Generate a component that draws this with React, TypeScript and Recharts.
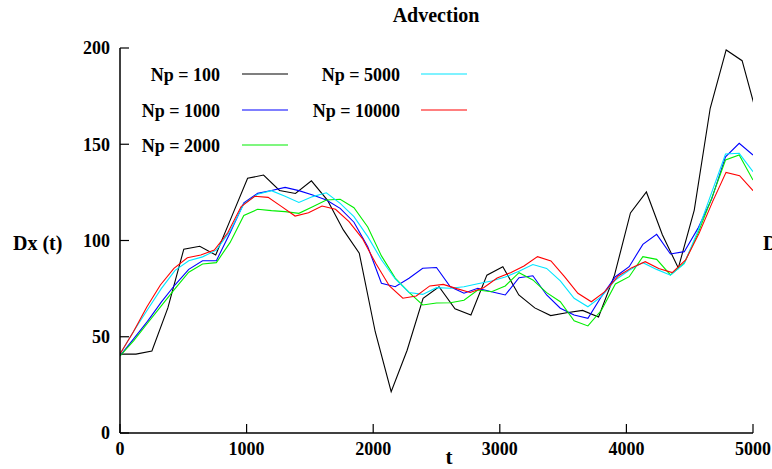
import { LineChart, Line, XAxis, YAxis, Legend } from 'recharts';

// sample times of each run (the runs were written out at different steps)
const np100Times = [
  0, 126, 252, 378, 504, 630, 756, 882, 1008, 1134, 1260, 1386, 1512, 1638, 1764, 1890, 2016, 2142, 2268, 2394, 2520,
  2646, 2772, 2898, 3024, 3150, 3276, 3402, 3528, 3654, 3780, 3906, 4032, 4158, 4284, 4410, 4536, 4662, 4788, 4914, 5040,
];
const np10000Times = [
  0, 106, 213, 319, 426, 532, 638, 745, 851, 957, 1064, 1170, 1277, 1383, 1489, 1596, 1702, 1809, 1915, 2021, 2128,
  2234, 2340, 2447, 2553, 2660, 2766, 2872, 2979, 3085, 3191, 3298, 3404, 3511, 3617, 3723, 3830, 3936, 4043, 4149,
  4255, 4362, 4468, 4574, 4681, 4787, 4894, 5000,
];
const midTimes = [
  0, 109, 217, 326, 435, 543, 652, 761, 870, 978, 1087, 1196, 1304, 1413, 1522, 1630, 1739, 1848, 1957, 2065, 2174,
  2283, 2391, 2500, 2609, 2717, 2826, 2935, 3043, 3152, 3261, 3370, 3478, 3587, 3696, 3804, 3913, 4022, 4130, 4239,
  4348, 4457, 4565, 4674, 4783, 4891, 5000,
];

// Dx(t) for each particle count
const np100 = [
  41, 41, 42.6, 65, 95.5, 97, 92.5, 112.4, 132.3, 134, 126, 124.4, 131, 121, 105.5, 93.4, 52.6, 21.5, 43, 70, 76,
  64.5, 61.3, 82, 86.4, 71.7, 65, 61, 62.5, 63.7, 60.3, 82, 114.3, 125.2, 103, 85.7, 115.8, 168.7, 199, 193.4, 163,
];
const np1000 = [
  40, 49, 58, 68, 77, 85, 89.5, 89.5, 104, 119.5, 124.5, 126, 127.6, 125.9, 123.6, 121, 116.7, 109.5, 96.8, 77.8,
  76, 80.4, 85.6, 86, 76, 72.6, 75.2, 73.4, 71.7, 80.7, 81.7, 71.7, 64.8, 61.3, 59.6, 71, 81.2, 86.4, 98, 103.2, 93,
  94.2, 106.3, 121.6, 143.5, 150.5, 144.4,
];
const np2000 = [
  40, 48, 57, 66, 75, 83.5, 87.8, 88.5, 99, 113, 116.2, 115.5, 115, 114.1, 117.5, 121, 121.4, 117, 107, 92, 80.5,
  73, 66.5, 67.5, 67.7, 69, 74.3, 73.4, 76.4, 83.3, 79.5, 72.9, 68.2, 58.3, 55.6, 63.9, 77.4, 81.2, 91.6, 90.2,
  82.1, 88.2, 103.7, 122, 141.8, 144.4, 131.4,
];
const np5000 = [
  41, 53, 64, 75, 84.5, 89.5, 91.5, 95, 105, 119, 124, 125.9, 123, 119.8, 122.8, 124.8, 119.3, 112.4, 102, 90, 80,
  73, 72, 75.5, 75.2, 76, 77.5, 79, 81, 84, 87.5, 85.5, 79, 70, 65.6, 71, 79.5, 84.5, 88.5, 85, 82, 88, 105, 125,
  144.9, 145.3, 135.7,
];
const np10000 = [
  41, 52.6, 65.6, 76.9, 85.5, 91, 92.5, 95, 104, 117.6, 123, 122.4, 117.6, 112.7, 114.4, 117.9, 116.2, 109.8, 101,
  88, 76.4, 70, 71.2, 76.4, 77.2, 75, 73, 75.5, 80.5, 83.3, 86.8, 91.6, 89.4, 81.2, 72.6, 68.2, 73.4, 81.6, 85.9,
  89, 85.5, 83.3, 89.9, 103.7, 120.2, 135.4, 133.7, 125.9,
];

const xTicks = [0, 1000, 2000, 3000, 4000, 5000];
const yTicks = [0, 50, 100, 150, 200];

const toPoints = (times: number[], values: number[]) => times.map((t, i) => ({ t, v: values[i] }));

const series = [
  { name: 'Np = 100', color: '#000000', points: toPoints(np100Times, np100) },
  { name: 'Np = 1000', color: '#0000ff', points: toPoints(midTimes, np1000) },
  { name: 'Np = 2000', color: '#00ee00', points: toPoints(midTimes, np2000) },
  { name: 'Np = 5000', color: '#00e5ff', points: toPoints(midTimes, np5000) },
  { name: 'Np = 10000', color: '#ff0000', points: toPoints(np10000Times, np10000) },
];

const FONT = "'Liberation Serif', 'Times New Roman', serif";
const tickFont = { fill: '#000', fontSize: 18, fontWeight: 'bold', fontFamily: FONT };
const frame = { stroke: '#000', strokeWidth: 1.5 };

// legend sits inside the plot: three rows on the left, two on the right
const legendCols = [
  { textRight: 220, lineLeft: 242 },
  { textRight: 400, lineLeft: 421 },
];
const legendRows = [75, 111, 146];

const renderLegend = () => (
  <div style={{ position: 'relative', width: 772, height: 469 }}>
    {series.map((s, i) => {
      const col = legendCols[i < 3 ? 0 : 1];
      const y = legendRows[i % 3];
      return (
        <div key={s.name}>
          <div
            style={{
              position: 'absolute',
              right: 772 - col.textRight,
              top: y - 12,
              height: 24,
              lineHeight: '24px',
              whiteSpace: 'nowrap',
              fontFamily: FONT,
              fontWeight: 'bold',
              fontSize: 18,
              color: '#000',
            }}
          >
            {s.name}
          </div>
          <svg
            width={46}
            height={4}
            style={{ position: 'absolute', left: col.lineLeft, top: y - 3, overflow: 'visible' }}
          >
            <line x1={0} y1={2} x2={46} y2={2} stroke={s.color} strokeWidth={1.2} />
          </svg>
        </div>
      );
    })}
  </div>
);

export default function App() {
  return (
    <div style={{ position: 'absolute', left: 0, top: 0, width: 772, height: 469, background: '#fff' }}>
      <LineChart width={772} height={469} margin={{ top: 48, right: 19, bottom: 0, left: 0 }}>
        <XAxis
          xAxisId="bottom"
          type="number"
          dataKey="t"
          domain={[0, 5000]}
          allowDataOverflow
          ticks={xTicks}
          height={36}
          tickSize={-9}
          tickMargin={18}
          tick={tickFont}
          axisLine={frame}
          tickLine={{ stroke: '#000', strokeWidth: 1.2 }}
        />
        <XAxis
          xAxisId="top"
          orientation="top"
          type="number"
          domain={[0, 5000]}
          allowDataOverflow
          ticks={xTicks}
          height={0}
          tickSize={-9}
          tick={false}
          axisLine={frame}
          tickLine={{ stroke: '#000', strokeWidth: 1.2 }}
        />
        <YAxis
          yAxisId="left"
          type="number"
          domain={[0, 200]}
          allowDataOverflow
          ticks={yTicks}
          width={120}
          tickSize={-9}
          tickMargin={19}
          tick={tickFont}
          axisLine={frame}
          tickLine={{ stroke: '#000', strokeWidth: 1.2 }}
        />
        <YAxis
          yAxisId="right"
          orientation="right"
          type="number"
          domain={[0, 200]}
          allowDataOverflow
          ticks={yTicks}
          width={0}
          tickSize={-9}
          tick={false}
          axisLine={frame}
          tickLine={{ stroke: '#000', strokeWidth: 1.2 }}
        />
        <Legend
          layout="horizontal"
          verticalAlign="middle"
          align="center"
          wrapperStyle={{ left: 0, top: 0, width: 772, height: 469, pointerEvents: 'none' }}
          content={renderLegend}
        />
        {series.map((s) => (
          <Line
            key={s.name}
            name={s.name}
            data={s.points}
            dataKey="v"
            xAxisId="bottom"
            yAxisId="left"
            type="linear"
            stroke={s.color}
            strokeWidth={1.1}
            dot={false}
            activeDot={false}
            isAnimationActive={false}
          />
        ))}
        <text x={436} y={22} textAnchor="middle" fontFamily={FONT} fontWeight="bold" fontSize={20} fill="#000">
          Advection
        </text>
        <text x={13} y={250} fontFamily={FONT} fontWeight="bold" fontSize={20} fill="#000">
          Dx (t)
        </text>
        <text x={763} y={250} fontFamily={FONT} fontWeight="bold" fontSize={20} fill="#000">
          Dx (t)
        </text>
        <text x={449} y={464} textAnchor="middle" fontFamily={FONT} fontWeight="bold" fontSize={21} fill="#000">
          t
        </text>
      </LineChart>
    </div>
  );
}
